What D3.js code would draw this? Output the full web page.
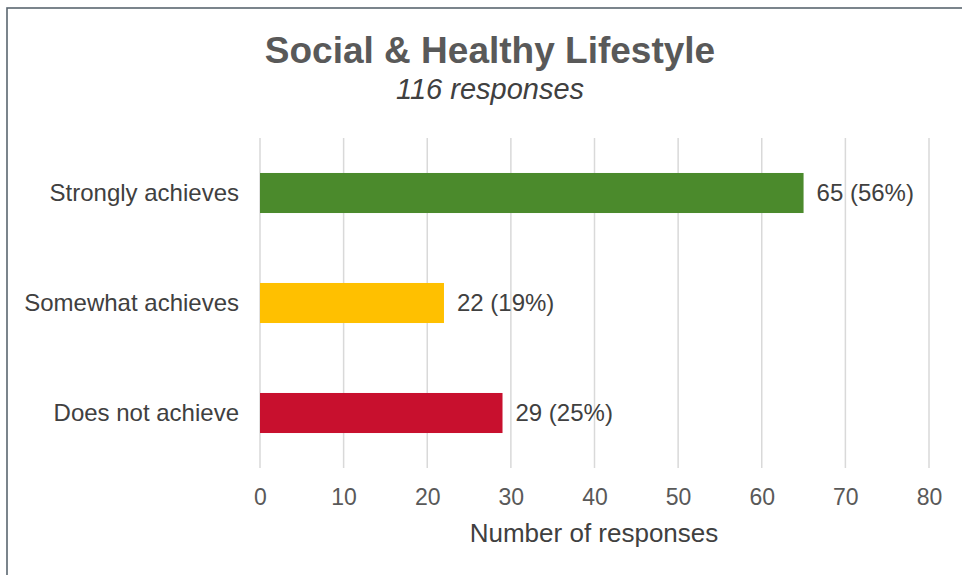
<!DOCTYPE html>
<html><head><meta charset="utf-8">
<script src="https://cdn.jsdelivr.net/npm/d3@7"></script>
<style>body{margin:0;background:#fff;}svg{display:block;font-family:Arial,"Liberation Sans",sans-serif;}</style>
</head><body><svg id="c" width="962" height="575"></svg>
<script>
const categories = ["Strongly achieves", "Somewhat achieves", "Does not achieve"];
const values = [65, 22, 29];
const labels = ["65 (56%)", "22 (19%)", "29 (25%)"];
const colors = ["#4b8a2c", "#ffc000", "#c8102e"];
const ticks = [0, 10, 20, 30, 40, 50, 60, 70, 80];

const svg = d3.select("#c");
svg.append("rect").attr("x", 7).attr("y", 8).attr("width", 1000).attr("height", 600)
  .attr("fill", "#fff").attr("stroke", "#5b6770").attr("stroke-width", 1.6);

const x = d3.scaleLinear().domain([0, 80]).range([260, 929]);
const y = d3.scaleBand().domain(categories).range([138, 468]).paddingInner(0.636).paddingOuter(0.318);

svg.append("g").selectAll("line").data(ticks).join("line")
  .attr("x1", d => x(d)).attr("x2", d => x(d)).attr("y1", 138).attr("y2", 468)
  .attr("stroke", "#d9d9d9").attr("stroke-width", 1.5);

const xAxis = d3.axisBottom(x).tickValues(ticks).tickSize(0).tickPadding(0);
const gx = svg.append("g").attr("transform", "translate(0,468)").call(xAxis);
gx.select(".domain").remove();
gx.selectAll("text").attr("font-size", 23).attr("fill", "#595959").attr("dy", null).attr("y", 37)
  .attr("font-family", "Arial, 'Liberation Sans', sans-serif");

svg.append("g").selectAll("rect").data(values).join("rect")
  .attr("x", x(0)).attr("y", (d, i) => y(categories[i]))
  .attr("width", d => x(d) - x(0)).attr("height", y.bandwidth())
  .attr("fill", (d, i) => colors[i]);

svg.append("g").selectAll("text").data(values).join("text")
  .attr("x", d => x(d) + 13).attr("y", (d, i) => y(categories[i]) + y.bandwidth() / 2)
  .attr("dy", "0.35em").attr("font-size", 24).attr("fill", "#404040")
  .text((d, i) => labels[i]);

svg.append("g").selectAll("text").data(categories).join("text")
  .attr("x", 239).attr("y", d => y(d) + y.bandwidth() / 2).attr("dy", "0.35em")
  .attr("text-anchor", "end").attr("font-size", 24).attr("fill", "#404040").text(d => d);

svg.append("text").attr("x", 490).attr("y", 63).attr("text-anchor", "middle")
  .attr("font-size", 37).attr("font-weight", "bold").attr("fill", "#595959").text("Social & Healthy Lifestyle");
svg.append("text").attr("x", 490).attr("y", 99).attr("text-anchor", "middle")
  .attr("font-size", 29).attr("font-style", "italic").attr("fill", "#404040").text("116 responses");
svg.append("text").attr("x", 594).attr("y", 542).attr("text-anchor", "middle")
  .attr("font-size", 26).attr("fill", "#404040").text("Number of responses");
</script></body></html>
